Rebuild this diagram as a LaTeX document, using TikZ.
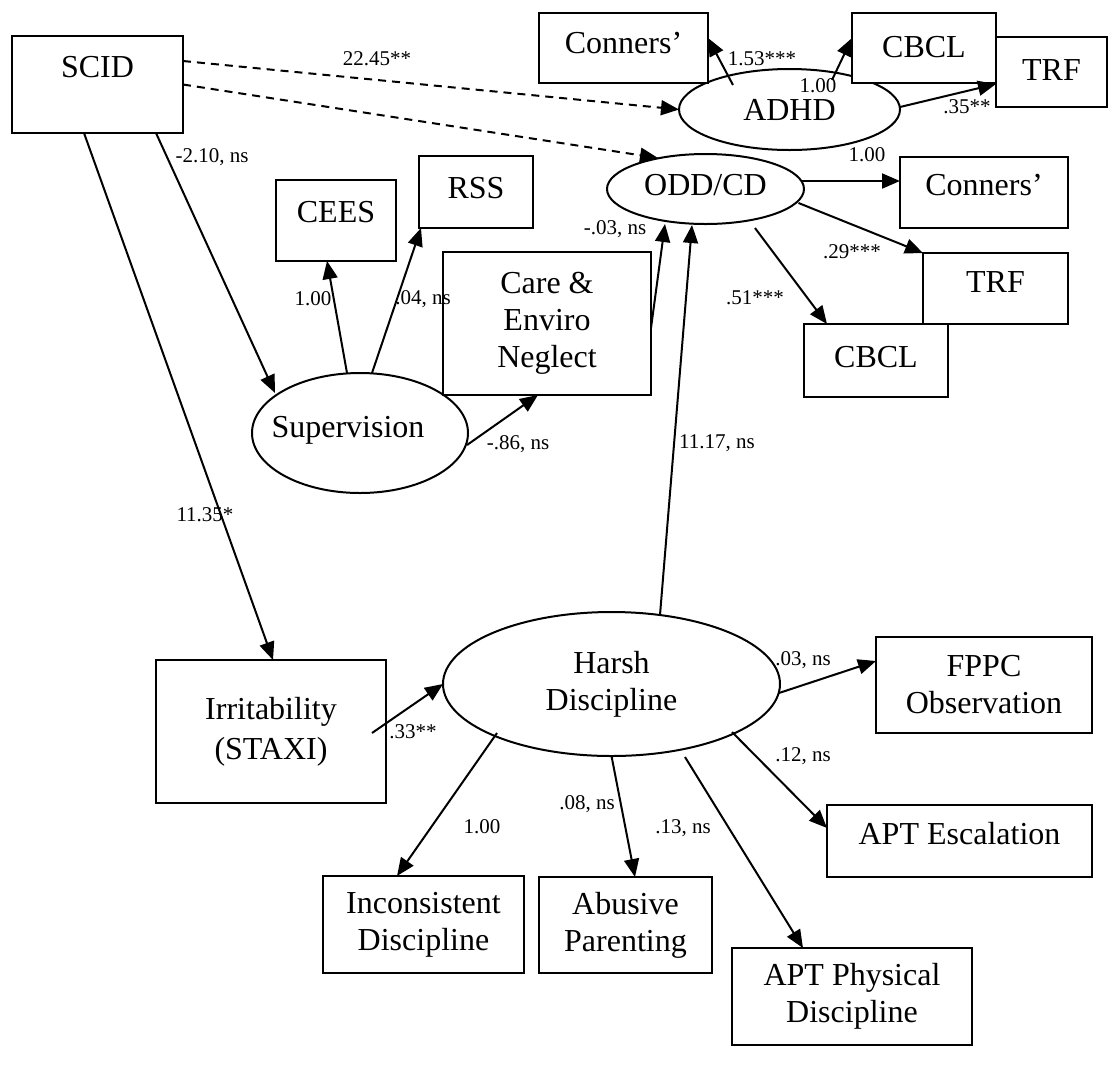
\documentclass[tikz,border=0pt]{standalone}
\usepackage{fontspec}
\setmainfont{Liberation Serif}
\usetikzlibrary{shapes.geometric,arrows.meta}
\begin{document}
\begin{tikzpicture}[x=0.5pt,y=-0.5pt,
  box/.style={draw,fill=white,line width=1pt,rectangle,inner sep=0pt,outer sep=0pt,align=center,font=\fontsize{16}{18.5}\selectfont},
  lat/.style={draw,line width=1pt,ellipse,inner sep=0pt,outer sep=0pt,align=center,font=\fontsize{16}{18.5}\selectfont},
  arr/.style={line width=1pt,-{Triangle[length=9pt,width=7.5pt]}},
  darr/.style={arr,dash pattern=on 4pt off 3pt},
  lab/.style={inner sep=0pt,font=\fontsize{10.5}{12}\selectfont}]
\useasboundingbox[fill=white] (0,0) rectangle (1110,1078);

% latent variables (drawn first so the boxes cover them where they overlap)
\node[lat,minimum width=110.5pt,minimum height=40.5pt] (adhd) at (789.5,109.5) {ADHD};
\node[lat,minimum width=98.5pt,minimum height=35pt,text depth=4pt] (odd) at (705.5,189) {ODD/CD};
\node[lat,minimum width=108pt,minimum height=60pt,text depth=6pt] (sup) at (360,433) {\hspace*{-12pt}Supervision};
\node[lat,minimum width=168.5pt,minimum height=72pt] (harsh) at (611.5,684) {Harsh\\Discipline};

% observed boxes
\node[box,minimum width=85.5pt,minimum height=48.5pt,text depth=17.5pt] (scid) at (97.5,84.5) {SCID};
\node[box,minimum width=84.5pt,minimum height=35pt,text depth=5pt] (connA) at (623.5,48) {Conners’};
\node[box,minimum width=72pt,minimum height=35pt,text depth=1pt] (cbclA) at (924,48) {CBCL};
\node[box,minimum width=55.5pt,minimum height=35pt,text depth=2pt] (trfA) at (1051.5,72) {TRF};
\node[box,minimum width=84pt,minimum height=35.5pt,text depth=7.5pt] (connB) at (984,192.5) {Conners’};
\node[box,minimum width=72.5pt,minimum height=35.5pt,text depth=6.5pt] (trfB) at (995.5,288.5) {TRF};
\node[box,minimum width=72pt,minimum height=36.5pt,text depth=3.5pt] (cbclB) at (876,360.5) {CBCL};
\node[box,minimum width=60pt,minimum height=40.5pt,text depth=8.5pt] (cees) at (336,220.5) {CEES};
\node[box,minimum width=57pt,minimum height=36pt,text depth=4pt] (rss) at (476,192) {RSS};
\node[box,minimum width=104pt,minimum height=71.5pt] (care) at (547,323.5) {Care \&\\Enviro\\Neglect};
\node[box,minimum width=115pt,minimum height=71.5pt,font=\fontsize{16}{20}\selectfont] (irr) at (271,731.5) {Irritability\\(STAXI)};
\node[box,minimum width=108pt,minimum height=48pt] (fppc) at (984,685) {FPPC\\Observation};
\node[box,minimum width=132.5pt,minimum height=36pt,text depth=8pt] (esc) at (959.5,841) {APT Escalation};
\node[box,minimum width=86.5pt,minimum height=48pt] (abus) at (625.5,925) {Abusive\\Parenting};
\node[box,minimum width=120pt,minimum height=48.5pt] (phys) at (852,996.5) {APT Physical\\Discipline};
\node[box,minimum width=100.5pt,minimum height=48.5pt] (inc) at (423.5,924.5) {Inconsistent\\Discipline};

% connectors
\draw[darr] ([shift={(85.5,-23.5)}]scid.center) -- (adhd.west);
\draw[darr] (scid.east) -- ([shift={(-47.5,-31)}]odd.center);
\draw[arr] ([shift={(-56.5,-24.5)}]adhd.center) -- ([shift={(0,-10)}]connA.east);
\draw[arr] ([shift={(42.5,-29.5)}]adhd.center) -- ([shift={(0,-10)}]cbclA.west);
\draw[arr] ([shift={(110.5,-2.5)}]adhd.center) -- ([shift={(0,12)}]trfA.west);
\draw[arr] ([shift={(96,-8)}]odd.center) -- ([shift={(0,-11.5)}]connB.west);
\draw[arr] ([shift={(93,14)}]odd.center) -- (trfB.north west);
\draw[arr] ([shift={(49.5,39)}]odd.center) -- ([shift={(-49,0)}]cbclB.north);
\draw[arr] ([shift={(-13,-60)}]sup.center) -- ([shift={(-9,0)}]cees.south);
\draw[arr] ([shift={(12,-60)}]sup.center) -- ([shift={(2,0)}]rss.south west);
\draw[arr] ([shift={(107,12)}]sup.center) -- ([shift={(-9,0)}]care.south);
\draw[arr] ([shift={(0,4.5)}]care.east) -- ([shift={(-40.5,35)}]odd.center);
\draw[arr] ([shift={(48.5,-69)}]harsh.center) -- ([shift={(-13.5,36)}]odd.center);
\draw[arr] ([shift={(58.5,0)}]scid.south) -- ([shift={(-85,-40)}]sup.center);
\draw[arr] ([shift={(-13.5,0)}]scid.south) -- ([shift={(2,0)}]irr.north);
\draw[arr] ([shift={(101,1.5)}]irr.center) -- (harsh.west);
\draw[arr] ([shift={(167.5,9)}]harsh.center) -- ([shift={(0,-24)}]fppc.west);
\draw[arr] ([shift={(120.5,48)}]harsh.center) -- ([shift={(0,-13)}]esc.west);
\draw[arr] (harsh.south) -- ([shift={(9.5,0)}]abus.north);
\draw[arr] ([shift={(73.5,73)}]harsh.center) -- ([shift={(-49,0)}]phys.north);
\draw[arr] ([shift={(-114.5,49)}]harsh.center) -- ([shift={(-26.5,0)}]inc.north);

% path labels
\node[lab] (la1) at (377,59) {22.45**};
\node[lab] (la2) at (212,157) {-2.10, ns};
\node[lab] (la3) at (762,59) {1.53***};
\node[lab] (la4) at (818,86) {1.00};
\node[lab] (la5) at (967,107) {.35**};
\node[lab] (la6) at (867,155) {1.00};
\node[lab] (la7) at (852,252) {.29***};
\node[lab] (la8) at (755,298) {.51***};
\node[lab] (la9) at (615,229) {-.03, ns};
\node[lab] (la10) at (313,299) {1.00};
\node[lab] (la11) at (423,299) {.04, ns};
\node[lab] (la12) at (518,444) {-.86, ns};
\node[lab] (la13) at (717,443) {11.17, ns};
\node[lab] (la14) at (205,515) {11.35*};
\node[lab] (la15) at (413,732) {.33**};
\node[lab] (la16) at (803,660) {.03, ns};
\node[lab] (la17) at (803,756) {.12, ns};
\node[lab] (la18) at (587,804) {.08, ns};
\node[lab] (la19) at (683,828) {.13, ns};
\node[lab] (la20) at (482,827) {1.00};
\end{tikzpicture}
\end{document}
